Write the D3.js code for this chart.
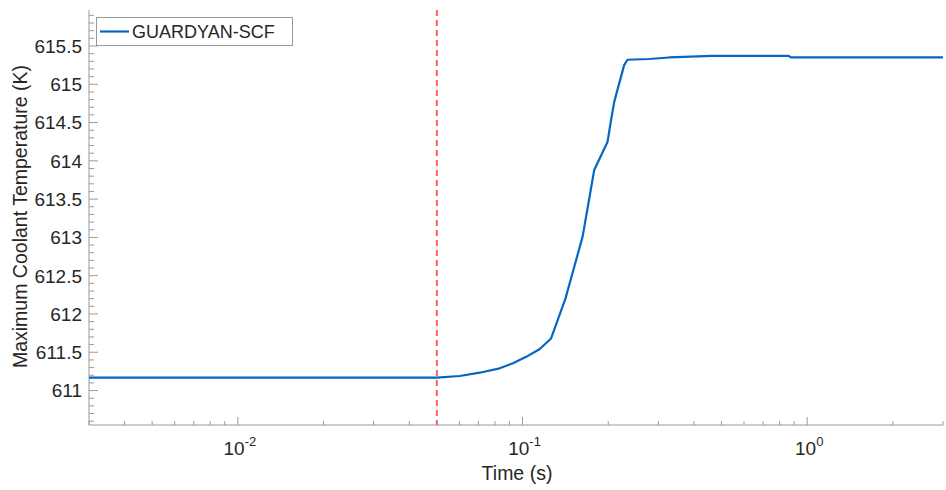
<!DOCTYPE html>
<html><head><meta charset="utf-8">
<script src="https://cdn.jsdelivr.net/npm/d3@7"></script>
<style>
html,body{margin:0;padding:0;background:#fff;}
svg{display:block;font-family:"Liberation Sans",Arial,Helvetica,sans-serif;}
</style></head>
<body>
<svg id="chart" width="946" height="490"></svg>
<script>
const seriesName = "GUARDYAN-SCF";
const times = [0.003, 0.05, 0.0602, 0.0707, 0.0831, 0.093, 0.103, 0.1147, 0.126, 0.1415, 0.1626, 0.1786, 0.199, 0.2046, 0.210, 0.2275, 0.2337, 0.2786, 0.327, 0.463, 0.86, 0.88, 3];
const temps = [611.17, 611.17, 611.19, 611.233, 611.29, 611.36, 611.44, 611.54, 611.68, 612.20, 613.01, 613.88, 614.25, 614.53, 614.77, 615.25, 615.32, 615.33, 615.35, 615.37, 615.37, 615.35, 615.35];
const markerTime = [0.05];
const yTickValues = [611, 611.5, 612, 612.5, 613, 613.5, 614, 614.5, 615, 615.5];
const xTickExponents = [-2, -1, 0];
const xDomain = [0.003, 3];
const yDomain = [610.55, 615.97];
const xLabel = "Time (s)";
const yLabel = "Maximum Coolant Temperature (K)";

const svg = d3.select("#chart");
const L = 89, R = 943, T = 10, B = 425;
const x = d3.scaleLog().domain(xDomain).range([L, R]);
const y = d3.scaleLinear().domain(yDomain).range([B, T]);
const axisColor = "#9a9a9a", textColor = "#262626";

// minor ticks
const xMinor = [];
for (let e = -3; e <= 0; e++) for (let m = 2; m <= 9; m++) {
  const v = m * Math.pow(10, e);
  if (v >= xDomain[0] && v <= xDomain[1]) xMinor.push(v);
}
const yMinor = [];
for (let k = 6106; k <= 6159; k++) {
  const r = k / 10;
  if (k % 5 !== 0) yMinor.push(r);
}

const g = svg.append("g");
// x axis
g.append("line").attr("x1", L).attr("x2", R).attr("y1", B).attr("y2", B).attr("stroke", axisColor).attr("stroke-width", 1);
g.selectAll(".xminor").data(xMinor).enter().append("line")
  .attr("x1", d => x(d)).attr("x2", d => x(d)).attr("y1", B).attr("y2", B - 4)
  .attr("stroke", axisColor);
g.selectAll(".xmajor").data(xTickExponents).enter().append("line")
  .attr("x1", d => x(Math.pow(10, d))).attr("x2", d => x(Math.pow(10, d))).attr("y1", B).attr("y2", B - 8)
  .attr("stroke", axisColor);
const xt = g.selectAll(".xlab").data(xTickExponents).enter().append("text")
  .attr("x", d => x(Math.pow(10, d)) + 2).attr("y", B + 30)
  .attr("text-anchor", "middle").attr("fill", textColor).attr("font-size", 19);
xt.append("tspan").text("10");
xt.append("tspan").attr("dy", -9).attr("font-size", 13).text(d => String(d));

// y axis
g.append("line").attr("x1", L).attr("x2", L).attr("y1", T).attr("y2", B).attr("stroke", axisColor);
g.selectAll(".yminor").data(yMinor).enter().append("line")
  .attr("x1", L).attr("x2", L + 5).attr("y1", d => y(d)).attr("y2", d => y(d)).attr("stroke", axisColor);
g.selectAll(".ymajor").data(yTickValues).enter().append("line")
  .attr("x1", L).attr("x2", L + 9).attr("y1", d => y(d)).attr("y2", d => y(d)).attr("stroke", axisColor);
g.selectAll(".ylab").data(yTickValues).enter().append("text")
  .attr("x", L - 7).attr("y", d => y(d)).attr("dy", "0.36em")
  .attr("text-anchor", "end").attr("fill", textColor).attr("font-size", 19)
  .text(d => d3.format("")(d));

// labels
svg.append("text").attr("x", 517).attr("y", 480).attr("text-anchor", "middle")
  .attr("fill", textColor).attr("font-size", 19.5).text(xLabel);
svg.append("text").attr("transform", `translate(27,216.5) rotate(-90)`).attr("text-anchor", "middle")
  .attr("fill", textColor).attr("font-size", 19.5).text(yLabel);

// dashed line
svg.selectAll(".marker").data(markerTime).enter().append("line")
  .attr("x1", d => x(d)).attr("x2", d => x(d)).attr("y1", T).attr("y2", B)
  .attr("stroke", "#ff5f5f").attr("stroke-width", 2).attr("stroke-dasharray", "6,4");

// series
const pts = times.map((t, i) => [t, temps[i]]);
svg.append("path").datum(pts)
  .attr("d", d3.line().x(d => x(d[0])).y(d => y(d[1])))
  .attr("fill", "none").attr("stroke", "#0566c4").attr("stroke-width", 2.2).attr("stroke-linejoin", "round");

// legend
const lg = svg.append("g");
lg.append("rect").attr("x", 96.5).attr("y", 17.5).attr("width", 196).attr("height", 28)
  .attr("fill", "#fff").attr("stroke", axisColor);
lg.append("line").attr("x1", 100).attr("x2", 129).attr("y1", 31.5).attr("y2", 31.5)
  .attr("stroke", "#0566c4").attr("stroke-width", 2.2);
lg.append("text").attr("x", 132).attr("y", 31.5).attr("dy", "0.36em").attr("fill", textColor)
  .attr("font-size", 18).text(seriesName);
</script>
</body></html>
